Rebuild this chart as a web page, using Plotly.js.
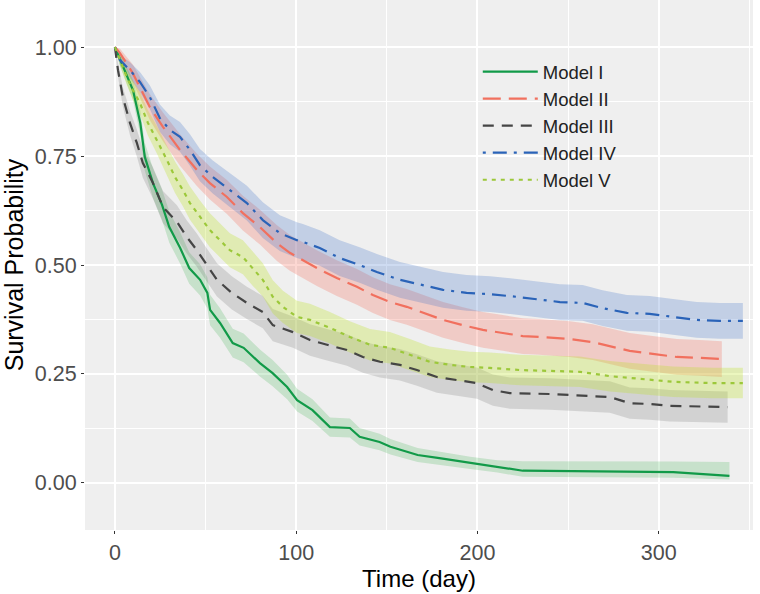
<!DOCTYPE html>
<html>
<head>
<meta charset="utf-8">
<script src="https://cdn.plot.ly/plotly-3.0.1.min.js"></script>
<style>html,body{margin:0;padding:0;background:#fff;}#chart{width:760px;height:594px;}</style>
</head>
<body>
<div id="chart"></div>
<script>
// ---- Data ----
const modelNames = ["Model I", "Model II", "Model III", "Model IV", "Model V"];

const timeI  = [0, 3, 10, 14, 16.5, 21, 26, 30, 36, 41, 47, 51, 52.5, 58, 65, 71, 80, 87, 95, 100.5, 109, 118.6, 129.6, 135, 146, 152, 167, 179, 196, 211, 225, 308, 339];
const survI  = [1.0, 0.970, 0.901, 0.826, 0.748, 0.688, 0.638, 0.587, 0.539, 0.493, 0.466, 0.436, 0.397, 0.367, 0.321, 0.310, 0.275, 0.252, 0.220, 0.190, 0.167, 0.128, 0.126, 0.106, 0.094, 0.083, 0.064, 0.057, 0.046, 0.037, 0.028, 0.025, 0.016];
const lowerI = [1.0, 0.955, 0.878, 0.798, 0.716, 0.654, 0.603, 0.551, 0.503, 0.457, 0.430, 0.400, 0.362, 0.333, 0.288, 0.277, 0.244, 0.222, 0.192, 0.164, 0.142, 0.106, 0.104, 0.086, 0.075, 0.065, 0.048, 0.042, 0.032, 0.024, 0.014, 0.012, 0.008];
const upperI = [1.0, 0.985, 0.924, 0.854, 0.780, 0.722, 0.673, 0.623, 0.575, 0.529, 0.502, 0.472, 0.432, 0.401, 0.354, 0.343, 0.306, 0.282, 0.248, 0.216, 0.192, 0.150, 0.148, 0.126, 0.113, 0.101, 0.080, 0.072, 0.060, 0.052, 0.050, 0.049, 0.048];

const timeII  = [0, 2.8, 9.9, 19.3, 26.5, 35.9, 45.2, 52.4, 61.8, 70.6, 80, 89.4, 96.5, 103.7, 111.4, 122.4, 133.5, 142.3, 151.7, 161, 170, 181, 192, 203, 214, 225, 234, 251, 263.6, 274.7, 284, 296.7, 310, 322.7, 334.8];
const survII  = [1.0, 0.986, 0.940, 0.862, 0.817, 0.764, 0.718, 0.688, 0.656, 0.619, 0.587, 0.550, 0.528, 0.511, 0.493, 0.470, 0.450, 0.431, 0.415, 0.404, 0.390, 0.374, 0.362, 0.351, 0.344, 0.337, 0.335, 0.330, 0.323, 0.312, 0.303, 0.296, 0.289, 0.287, 0.284];
const lowerII = [1.0, 0.976, 0.920, 0.832, 0.784, 0.728, 0.681, 0.650, 0.617, 0.579, 0.547, 0.509, 0.487, 0.470, 0.452, 0.429, 0.409, 0.390, 0.374, 0.363, 0.349, 0.333, 0.321, 0.310, 0.303, 0.296, 0.294, 0.289, 0.282, 0.271, 0.262, 0.255, 0.248, 0.246, 0.243];
const upperII = [1.0, 0.996, 0.960, 0.892, 0.850, 0.800, 0.755, 0.726, 0.695, 0.659, 0.627, 0.591, 0.569, 0.552, 0.534, 0.511, 0.491, 0.472, 0.456, 0.445, 0.431, 0.415, 0.403, 0.392, 0.385, 0.378, 0.376, 0.371, 0.364, 0.353, 0.344, 0.337, 0.330, 0.328, 0.325];

const timeIII  = [0, 1.7, 4.4, 8.3, 12.1, 15.4, 21, 26.5, 34.2, 39.7, 45.2, 50.7, 56.3, 64.5, 72.8, 81.6, 87.1, 98.2, 107.6, 117, 128, 136.8, 146.2, 157.2, 166.6, 177.6, 188.6, 199.7, 208.5, 217.9, 240, 263.7, 273, 284, 295, 306, 338];
const survIII  = [1.0, 0.947, 0.885, 0.826, 0.780, 0.734, 0.688, 0.633, 0.599, 0.564, 0.534, 0.500, 0.466, 0.436, 0.413, 0.392, 0.362, 0.346, 0.328, 0.317, 0.305, 0.289, 0.278, 0.271, 0.259, 0.243, 0.236, 0.229, 0.213, 0.206, 0.204, 0.200, 0.197, 0.183, 0.181, 0.177, 0.174];
const lowerIII = [1.0, 0.932, 0.863, 0.798, 0.749, 0.700, 0.652, 0.596, 0.561, 0.526, 0.496, 0.462, 0.428, 0.398, 0.376, 0.355, 0.325, 0.310, 0.292, 0.281, 0.269, 0.253, 0.242, 0.235, 0.223, 0.207, 0.200, 0.193, 0.177, 0.170, 0.168, 0.164, 0.161, 0.147, 0.145, 0.141, 0.138];
const upperIII = [1.0, 0.962, 0.907, 0.854, 0.811, 0.768, 0.724, 0.670, 0.637, 0.602, 0.572, 0.538, 0.504, 0.474, 0.450, 0.429, 0.399, 0.382, 0.364, 0.353, 0.341, 0.325, 0.314, 0.307, 0.295, 0.279, 0.272, 0.265, 0.249, 0.242, 0.240, 0.236, 0.233, 0.219, 0.217, 0.213, 0.210];

const timeIV  = [0, 2.8, 8.3, 13.8, 19.3, 24.8, 30.3, 35.9, 41.4, 46.9, 54, 63.4, 72.8, 81.6, 91, 100.4, 103.7, 113, 124, 135, 144.5, 157.2, 170, 181, 194, 207, 221.7, 232.8, 245.5, 258, 269, 282.4, 295, 307.8, 321, 333.7, 346.4];
const survIV  = [1.0, 0.970, 0.947, 0.920, 0.885, 0.837, 0.810, 0.794, 0.764, 0.729, 0.702, 0.672, 0.642, 0.603, 0.573, 0.557, 0.553, 0.539, 0.516, 0.500, 0.484, 0.466, 0.454, 0.443, 0.436, 0.433, 0.427, 0.422, 0.415, 0.413, 0.401, 0.390, 0.388, 0.381, 0.374, 0.372, 0.372];
const lowerIV = [1.0, 0.958, 0.929, 0.897, 0.858, 0.806, 0.777, 0.760, 0.728, 0.692, 0.664, 0.633, 0.602, 0.562, 0.532, 0.516, 0.512, 0.498, 0.475, 0.459, 0.443, 0.425, 0.413, 0.402, 0.395, 0.392, 0.386, 0.381, 0.374, 0.372, 0.360, 0.349, 0.347, 0.340, 0.333, 0.331, 0.331];
const upperIV = [1.0, 0.982, 0.965, 0.943, 0.912, 0.868, 0.843, 0.828, 0.800, 0.766, 0.740, 0.711, 0.682, 0.644, 0.614, 0.598, 0.594, 0.580, 0.557, 0.541, 0.525, 0.507, 0.495, 0.484, 0.477, 0.474, 0.468, 0.463, 0.456, 0.454, 0.442, 0.431, 0.429, 0.422, 0.415, 0.413, 0.413];

const timeV  = [0, 2.8, 6.6, 9.9, 13.8, 18.2, 23.2, 28.7, 33.1, 37.5, 41.4, 46.9, 52.4, 57.9, 63.4, 70.6, 76.1, 81.6, 87.1, 92.7, 100.4, 107.6, 118.6, 129.6, 140.7, 151.7, 162.7, 173.7, 184.8, 195.8, 206.8, 223.4, 256.5, 273, 284, 296.7, 307.8, 329.8, 346.4];
const survV  = [1.0, 0.970, 0.931, 0.901, 0.872, 0.826, 0.787, 0.741, 0.702, 0.672, 0.642, 0.610, 0.580, 0.557, 0.534, 0.518, 0.491, 0.466, 0.427, 0.404, 0.381, 0.374, 0.356, 0.335, 0.317, 0.310, 0.294, 0.278, 0.271, 0.266, 0.264, 0.259, 0.255, 0.245, 0.241, 0.236, 0.232, 0.229, 0.229];
const lowerV = [1.0, 0.958, 0.913, 0.879, 0.847, 0.797, 0.755, 0.707, 0.666, 0.635, 0.604, 0.572, 0.541, 0.518, 0.495, 0.479, 0.452, 0.428, 0.389, 0.367, 0.344, 0.337, 0.320, 0.299, 0.281, 0.274, 0.258, 0.243, 0.236, 0.231, 0.229, 0.224, 0.220, 0.210, 0.206, 0.201, 0.197, 0.194, 0.194];
const upperV = [1.0, 0.982, 0.949, 0.923, 0.897, 0.855, 0.819, 0.775, 0.738, 0.709, 0.680, 0.648, 0.619, 0.596, 0.573, 0.557, 0.530, 0.504, 0.465, 0.441, 0.418, 0.411, 0.392, 0.371, 0.353, 0.346, 0.330, 0.313, 0.306, 0.301, 0.299, 0.294, 0.290, 0.280, 0.276, 0.271, 0.267, 0.264, 0.264];

const xTicks = [0, 100, 200, 300];
const yTicks = [0, 0.25, 0.5, 0.75, 1.0];

// ---- Styling ----
const lineColors = ["#119A48", "#F1705E", "#454545", "#2A63B8", "#9CC83A"];
const bandColors = ["rgba(40,170,60,0.20)", "rgba(245,110,95,0.28)", "rgba(110,110,110,0.22)", "rgba(60,110,200,0.25)", "rgba(190,225,40,0.30)"];
const dashes = ["solid", "18px,8px", "11px,8px", "3px,7px,14px,7px", "4px,5px"];

const series = [
  [timeI, survI, lowerI, upperI],
  [timeII, survII, lowerII, upperII],
  [timeIII, survIII, lowerIII, upperIII],
  [timeIV, survIV, lowerIV, upperIV],
  [timeV, survV, lowerV, upperV]
];

const traces = [];
series.forEach((s, i) => {
  traces.push({x: s[0], y: s[3], type: "scatter", mode: "lines", line: {width: 0, color: "rgba(0,0,0,0)"}, showlegend: false, hoverinfo: "skip"});
  traces.push({x: s[0], y: s[2], type: "scatter", mode: "lines", line: {width: 0, color: "rgba(0,0,0,0)"}, fill: "tonexty", fillcolor: bandColors[i], showlegend: false, hoverinfo: "skip"});
});
series.forEach((s, i) => {
  traces.push({x: s[0], y: s[1], type: "scatter", mode: "lines", name: modelNames[i], line: {color: lineColors[i], width: 2.2, dash: dashes[i]}});
});

const layout = {
  width: 760, height: 594,
  margin: {l: 85, r: 7, t: 0, b: 64},
  paper_bgcolor: "#ffffff",
  plot_bgcolor: "#EFEFEF",
  font: {family: "Liberation Sans, Arial, sans-serif", color: "#000"},
  showlegend: true,
  legend: {
    x: 0.588, y: 0.9, xanchor: "left", yanchor: "top",
    traceorder: "normal",
    bgcolor: "rgba(0,0,0,0)", borderwidth: 0,
    font: {size: 18.5, color: "#222"},
    itemwidth: 55, tracegroupgap: 0
  },
  xaxis: {
    range: [-16.5, 352], tickvals: xTicks, ticktext: xTicks.map(String),
    showgrid: true, gridcolor: "#ffffff", gridwidth: 2, zeroline: false,
    minor: {dtick: 50, showgrid: true, gridcolor: "#ffffff", gridwidth: 1},
    ticks: "outside", ticklen: 3, tickcolor: "#333", tickwidth: 1,
    tickfont: {size: 21.5, color: "#4D4D4D"},
    title: {text: "Time (day)", font: {size: 24, color: "#000"}, standoff: 6},
    showline: false, fixedrange: true
  },
  yaxis: {
    range: [-0.108, 1.108], tickvals: yTicks, ticktext: yTicks.map(v => v.toFixed(2)),
    showgrid: true, gridcolor: "#ffffff", gridwidth: 2, zeroline: false,
    minor: {dtick: 0.125, showgrid: true, gridcolor: "#ffffff", gridwidth: 1},
    ticks: "outside", ticklen: 3, tickcolor: "#333", tickwidth: 1,
    tickfont: {size: 21.5, color: "#4D4D4D"},
    title: {text: "Survival Probability", font: {size: 25, color: "#000"}, standoff: 6},
    showline: false, fixedrange: true
  }
};

Plotly.newPlot("chart", traces, layout, {displayModeBar: false, staticPlot: true});
</script>
</body>
</html>
